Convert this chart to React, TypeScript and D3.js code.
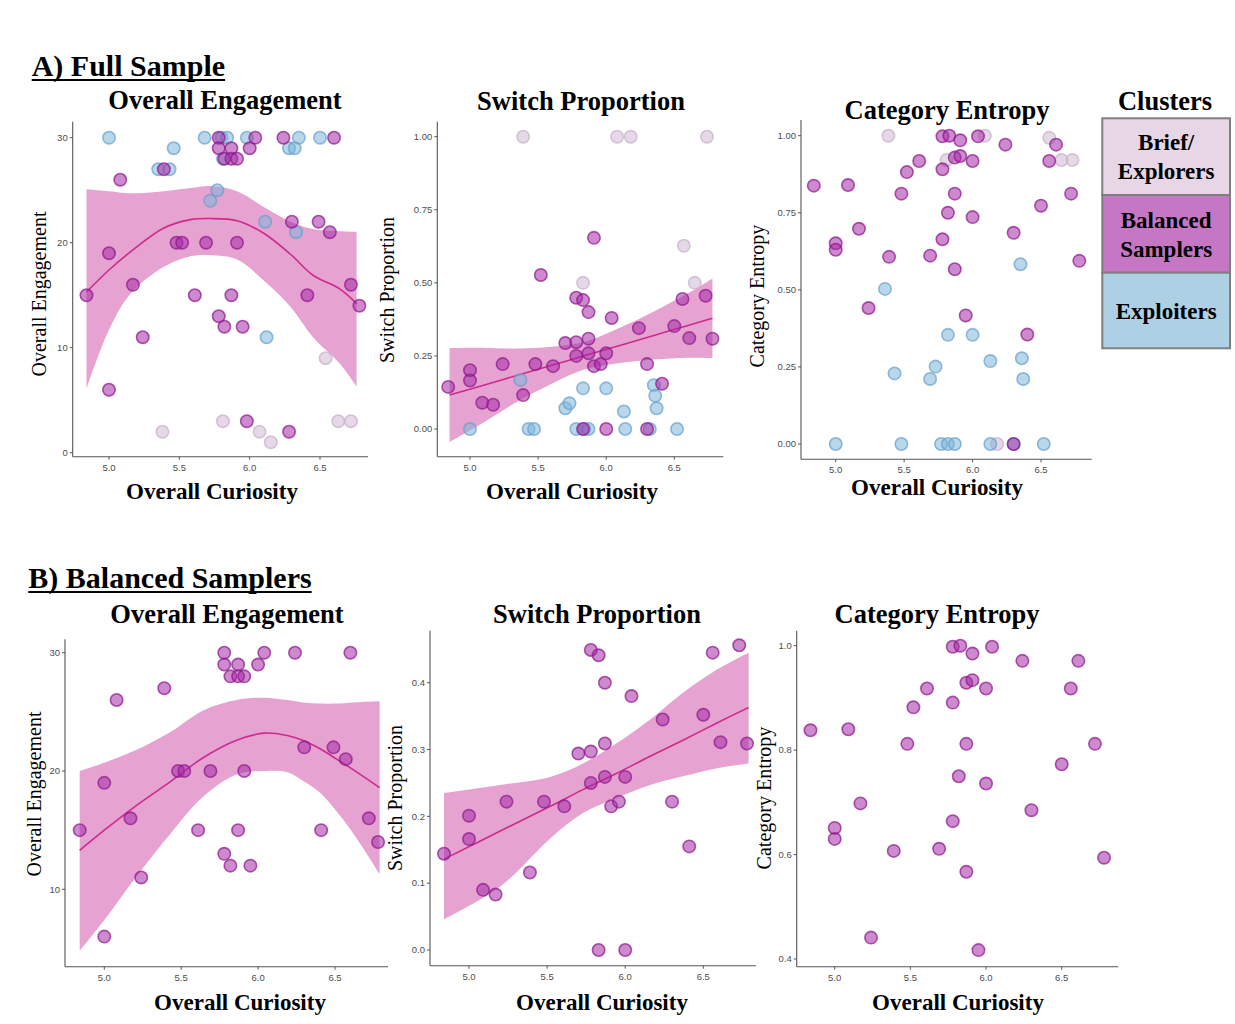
import React from 'react';
import * as d3 from 'd3';

type Pt = [number, number];
type Band = [number, number, number, number]; // curiosity, lower, fit, upper

// ---------- Balanced samplers (shown in both rows) ----------
const balancedEngagement: Pt[] = [
  [4.84, 15], [5.0, 19], [5.0, 6], [5.08, 26], [5.17, 16], [5.24, 11], [5.39, 27],
  [5.48, 20], [5.52, 20], [5.61, 15], [5.69, 20], [5.78, 30], [5.78, 29], [5.78, 13],
  [5.82, 28], [5.82, 12], [5.87, 29], [5.87, 28], [5.87, 15], [5.91, 28], [5.91, 20],
  [5.95, 12], [6.0, 29], [6.04, 30], [6.24, 30], [6.3, 22], [6.41, 15], [6.49, 22],
  [6.57, 21], [6.6, 30], [6.72, 16], [6.78, 14],
];
const balancedSwitch: Pt[] = [
  [4.84, 0.144], [5.0, 0.201], [5.0, 0.166], [5.09, 0.09], [5.17, 0.083], [5.24, 0.222],
  [5.39, 0.116], [5.48, 0.222], [5.61, 0.215], [5.7, 0.294], [5.78, 0.297], [5.78, 0.449],
  [5.83, 0.441], [5.78, 0.25], [5.83, 0.0], [5.87, 0.4], [5.87, 0.309], [5.87, 0.259],
  [5.91, 0.215], [5.96, 0.222], [6.0, 0.259], [6.0, 0.0], [6.04, 0.38], [6.24, 0.345],
  [6.3, 0.222], [6.41, 0.155], [6.5, 0.352], [6.56, 0.445], [6.61, 0.311], [6.73, 0.456],
  [6.78, 0.309],
];
const balancedEntropy: Pt[] = [
  [4.84, 0.838], [5.0, 0.651], [5.0, 0.63], [5.09, 0.84], [5.17, 0.698], [5.24, 0.441],
  [5.39, 0.607], [5.48, 0.812], [5.52, 0.882], [5.61, 0.918], [5.69, 0.611], [5.78, 0.998],
  [5.78, 0.891], [5.78, 0.664], [5.83, 1.0], [5.82, 0.75], [5.87, 0.929], [5.87, 0.812],
  [5.87, 0.567], [5.91, 0.985], [5.91, 0.934], [5.95, 0.417], [6.0, 0.918], [6.0, 0.736],
  [6.04, 0.998], [6.24, 0.971], [6.3, 0.685], [6.5, 0.773], [6.56, 0.918], [6.61, 0.971],
  [6.72, 0.812], [6.78, 0.594],
];

// Balanced samplers that appear only in the full sample
const fullOnlyBalancedEngagement: Pt[] = [[5.98, 3], [6.28, 2]];
const fullOnlyBalancedSwitch: Pt[] = [[5.52, 0.527], [5.91, 0.654], [6.3, 0.0]];
const fullOnlyBalancedEntropy: Pt[] = [[6.4, 0.355], [6.3, 0.0]];

// ---------- Exploiters ----------
const exploitersEngagement: Pt[] = [
  [5.0, 30], [5.68, 30], [5.8, 30], [5.84, 30], [5.98, 30], [6.35, 30], [6.5, 30],
  [5.46, 29], [6.28, 29], [6.32, 29], [5.81, 28], [5.35, 27], [5.43, 27], [5.72, 24],
  [5.77, 25], [6.11, 22], [6.33, 21], [6.12, 11],
];
const exploitersSwitch: Pt[] = [
  [5.0, 0], [5.43, 0], [5.47, 0], [5.78, 0], [5.84, 0], [5.87, 0], [6.14, 0], [6.32, 0],
  [6.52, 0], [5.37, 0.168], [5.83, 0.139], [6.0, 0.139], [5.7, 0.071], [5.73, 0.088],
  [6.13, 0.06], [6.35, 0.15], [6.36, 0.114], [6.37, 0.071],
];
const exploitersEntropy: Pt[] = [
  [5.0, 0], [5.48, 0], [5.77, 0], [5.82, 0], [5.87, 0], [6.13, 0], [6.3, 0], [6.52, 0],
  [5.36, 0.503], [6.35, 0.583], [5.82, 0.354], [6.0, 0.354], [6.13, 0.269], [6.36, 0.278],
  [6.37, 0.211], [5.73, 0.251], [5.69, 0.211], [5.43, 0.229],
];

// ---------- Brief / Explorers ----------
const briefEngagement: Pt[] = [
  [6.54, 9], [5.81, 3], [6.63, 3], [6.72, 3], [5.38, 2], [6.07, 2], [6.15, 1],
];
const briefSwitch: Pt[] = [
  [5.39, 1], [6.08, 1], [6.18, 1], [6.74, 1], [6.57, 0.627], [5.83, 0.5], [6.65, 0.5],
];
const briefEntropy: Pt[] = [
  [5.385, 1], [6.09, 1], [6.56, 0.993], [6.65, 0.921], [6.73, 0.921], [6.18, 0], [5.81, 0.921],
];

// ---------- Fitted curves with confidence bands ----------
const fullEngagementFit: Band[] = [
  [4.84, 6.1, 15.3, 25.1], [5.0, 11.7, 17.4, 24.9], [5.15, 15.1, 19.1, 24.7],
  [5.39, 17.7, 21.4, 24.9], [5.58, 18.7, 22.2, 25.2], [5.72, 18.8, 22.3, 25.4],
  [5.91, 18.4, 22.1, 24.9], [6.1, 16.4, 20.9, 23.4], [6.29, 13.9, 18.9, 22.0],
  [6.45, 11.0, 16.9, 21.3], [6.64, 8.5, 15.6, 21.1], [6.76, 6.3, 14.2, 21.05],
];
const fullSwitchFit: Band[] = [
  [4.85, -0.045, 0.116, 0.277], [5.1, 0.022, 0.15, 0.278], [5.35, 0.094, 0.184, 0.275],
  [5.6, 0.155, 0.218, 0.281], [5.85, 0.205, 0.252, 0.299], [6.1, 0.226, 0.286, 0.346],
  [6.35, 0.238, 0.32, 0.402], [6.6, 0.244, 0.354, 0.464], [6.78, 0.243, 0.379, 0.515],
];
const balancedEngagementFit: Band[] = [
  [4.84, 4.8, 13.3, 20.0], [5.0, 7.4, 15.0, 20.7], [5.21, 11.1, 17.1, 21.8],
  [5.43, 14.7, 19.1, 23.3], [5.64, 17.8, 21.1, 25.1], [5.86, 19.7, 22.6, 26.0],
  [6.04, 20.0, 23.2, 26.2], [6.19, 19.9, 23.0, 26.0], [6.29, 19.2, 22.6, 25.8],
  [6.4, 18.2, 21.9, 25.7], [6.51, 16.6, 21.0, 25.7], [6.62, 14.7, 20.1, 25.8],
  [6.79, 11.3, 18.6, 25.9],
];
const balancedSwitchFit: Band[] = [
  [4.84, 0.046, 0.136, 0.235], [5.2, 0.095, 0.178, 0.247], [5.52, 0.167, 0.215, 0.259],
  [5.73, 0.205, 0.24, 0.279], [5.95, 0.228, 0.265, 0.31], [6.16, 0.247, 0.29, 0.345],
  [6.37, 0.26, 0.314, 0.385], [6.59, 0.272, 0.34, 0.42], [6.79, 0.279, 0.363, 0.445],
];

const xTicks = [5.0, 5.5, 6.0, 6.5];
const engagementTicks = [0, 10, 20, 30];
const balancedEngagementTicks = [10, 20, 30];
const proportionTicks = [0, 0.25, 0.5, 0.75, 1.0];
const balancedSwitchTicks = [0, 0.1, 0.2, 0.3, 0.4];
const balancedEntropyTicks = [0.4, 0.6, 0.8, 1.0];

type Cluster = 'brief' | 'balanced' | 'exploit';

const legendLabels: { lines: string[]; key: Cluster }[] = [
  { lines: ['Brief/', 'Explorers'], key: 'brief' },
  { lines: ['Balanced', 'Samplers'], key: 'balanced' },
  { lines: ['Exploiters'], key: 'exploit' },
];

const POINT_STYLE: Record<Cluster, { fill: string; stroke: string; fo: number; so: number }> = {
  brief: { fill: '#d6bfd7', stroke: '#cbb1cc', fo: 0.6, so: 0.75 },
  balanced: { fill: '#a52aa5', stroke: '#8c168c', fo: 0.55, so: 0.7 },
  exploit: { fill: '#7db6da', stroke: '#679fcb', fo: 0.55, so: 0.7 },
};
const LEGEND_FILL: Record<Cluster, string> = {
  brief: '#e6d6e6',
  balanced: '#c577c3',
  exploit: '#aed0e4',
};

const SERIF = '"Liberation Serif", "Times New Roman", Times, serif';
const SANS = '"Liberation Sans", Arial, Helvetica, sans-serif';
const BAND_FILL = '#e6a2d0';
const FIT_LINE = '#cc2a8c';
const AXIS = '#555555';

type Layer = { data: Pt[]; cluster: Cluster };

type PanelSpec = {
  title: string;
  titlePos: [number, number];
  yTitle: string;
  yTitlePos: [number, number];
  xTitlePos: [number, number];
  frame: { l: number; r: number; t: number; b: number };
  xRange: [number, number];
  yDomain: [number, number];
  yRange: [number, number];
  yTicks: number[];
  yFmt: string;
  band?: Band[];
  layers: Layer[];
};

function Panel({ spec }: { spec: PanelSpec }) {
  const x = d3.scaleLinear().domain([5.0, 6.5]).range(spec.xRange);
  const y = d3.scaleLinear().domain(spec.yDomain).range(spec.yRange);
  const f = d3.format(spec.yFmt);
  const fx = d3.format('.1f');
  const { l, r, t, b } = spec.frame;

  let bandPath: string | null = null;
  let linePath: string | null = null;
  if (spec.band) {
    const curve = d3.curveCatmullRom.alpha(0.5);
    const area = d3
      .area<Band>()
      .x((d) => x(d[0]))
      .y0((d) => y(d[1]))
      .y1((d) => y(d[3]))
      .curve(curve);
    const line = d3
      .line<Band>()
      .x((d) => x(d[0]))
      .y((d) => y(d[2]))
      .curve(curve);
    bandPath = area(spec.band);
    linePath = line(spec.band);
  }

  return (
    <g>
      <text
        x={spec.titlePos[0]}
        y={spec.titlePos[1]}
        textAnchor="middle"
        fontFamily={SERIF}
        fontWeight="bold"
        fontSize={26.5}
      >
        {spec.title}
      </text>
      <text
        transform={`translate(${spec.yTitlePos[0]},${spec.yTitlePos[1]}) rotate(-90)`}
        textAnchor="middle"
        fontFamily={SERIF}
        fontSize={20}
      >
        {spec.yTitle}
      </text>
      <text
        x={spec.xTitlePos[0]}
        y={spec.xTitlePos[1]}
        textAnchor="middle"
        fontFamily={SERIF}
        fontWeight="bold"
        fontSize={23}
      >
        Overall Curiosity
      </text>

      {bandPath && <path d={bandPath} fill={BAND_FILL} />}
      {linePath && <path d={linePath} fill="none" stroke={FIT_LINE} strokeWidth={1.6} />}

      {spec.layers.map((layer, li) => {
        const s = POINT_STYLE[layer.cluster];
        return (
          <g key={li}>
            {layer.data.map((d, i) => (
              <circle
                key={i}
                cx={x(d[0])}
                cy={y(d[1])}
                r={6.2}
                fill={s.fill}
                fillOpacity={s.fo}
                stroke={s.stroke}
                strokeOpacity={s.so}
                strokeWidth={1.6}
              />
            ))}
          </g>
        );
      })}

      {/* axes */}
      <line x1={l} x2={l} y1={t} y2={b} stroke={AXIS} strokeWidth={1.1} />
      <line x1={l} x2={r} y1={b} y2={b} stroke={AXIS} strokeWidth={1.1} />
      {xTicks.map((v) => (
        <g key={v}>
          <line x1={x(v)} x2={x(v)} y1={b} y2={b + 3} stroke={AXIS} strokeWidth={1} />
          <text
            x={x(v)}
            y={b + 14}
            textAnchor="middle"
            fontFamily={SANS}
            fontSize={9.5}
            fill="#4d4d4d"
          >
            {fx(v)}
          </text>
        </g>
      ))}
      {spec.yTicks.map((v) => (
        <g key={v}>
          <line x1={l - 3} x2={l} y1={y(v)} y2={y(v)} stroke={AXIS} strokeWidth={1} />
          <text
            x={l - 5}
            y={y(v) + 3.3}
            textAnchor="end"
            fontFamily={SANS}
            fontSize={9.5}
            fill="#4d4d4d"
          >
            {f(v)}
          </text>
        </g>
      ))}
    </g>
  );
}

const panels: PanelSpec[] = [
  {
    title: 'Overall Engagement',
    titlePos: [225, 109],
    yTitle: 'Overall Engagement',
    yTitlePos: [46, 294],
    xTitlePos: [212, 499],
    frame: { l: 72.7, r: 368, t: 121.7, b: 456.7 },
    xRange: [109, 320],
    yDomain: [0, 30],
    yRange: [452.7, 137.7],
    yTicks: engagementTicks,
    yFmt: 'd',
    band: fullEngagementFit,
    layers: [
      { data: briefEngagement, cluster: 'brief' },
      { data: exploitersEngagement, cluster: 'exploit' },
      { data: balancedEngagement.concat(fullOnlyBalancedEngagement), cluster: 'balanced' },
    ],
  },
  {
    title: 'Switch Proportion',
    titlePos: [581, 110],
    yTitle: 'Switch Proportion',
    yTitlePos: [394, 290],
    xTitlePos: [572, 499],
    frame: { l: 437.3, r: 723.3, t: 121.7, b: 456.7 },
    xRange: [470, 674.3],
    yDomain: [0, 1],
    yRange: [429, 136.7],
    yTicks: proportionTicks,
    yFmt: '.2f',
    band: fullSwitchFit,
    layers: [
      { data: briefSwitch, cluster: 'brief' },
      { data: exploitersSwitch, cluster: 'exploit' },
      { data: balancedSwitch.concat(fullOnlyBalancedSwitch), cluster: 'balanced' },
    ],
  },
  {
    title: 'Category Entropy',
    titlePos: [947, 119],
    yTitle: 'Category Entropy',
    yTitlePos: [764, 296],
    xTitlePos: [937, 495],
    frame: { l: 801, r: 1091.7, t: 120, b: 459.3 },
    xRange: [835.7, 1041],
    yDomain: [0, 1],
    yRange: [444, 135.7],
    yTicks: proportionTicks,
    yFmt: '.2f',
    layers: [
      { data: briefEntropy, cluster: 'brief' },
      { data: exploitersEntropy, cluster: 'exploit' },
      { data: balancedEntropy.concat(fullOnlyBalancedEntropy), cluster: 'balanced' },
    ],
  },
  {
    title: 'Overall Engagement',
    titlePos: [227, 623],
    yTitle: 'Overall Engagement',
    yTitlePos: [41, 794],
    xTitlePos: [240, 1010],
    frame: { l: 65, r: 388, t: 639.3, b: 966.7 },
    xRange: [104.3, 335],
    yDomain: [10, 30],
    yRange: [889.3, 652.7],
    yTicks: balancedEngagementTicks,
    yFmt: 'd',
    band: balancedEngagementFit,
    layers: [{ data: balancedEngagement, cluster: 'balanced' }],
  },
  {
    title: 'Switch Proportion',
    titlePos: [597, 622.5],
    yTitle: 'Switch Proportion',
    yTitlePos: [401.5, 798],
    xTitlePos: [602, 1009.5],
    frame: { l: 430, r: 756, t: 630.7, b: 965.7 },
    xRange: [469, 703.3],
    yDomain: [0, 0.4],
    yRange: [950, 682.7],
    yTicks: balancedSwitchTicks,
    yFmt: '.1f',
    band: balancedSwitchFit,
    layers: [{ data: balancedSwitch, cluster: 'balanced' }],
  },
  {
    title: 'Category Entropy',
    titlePos: [937, 622.5],
    yTitle: 'Category Entropy',
    yTitlePos: [771, 798],
    xTitlePos: [958, 1010],
    frame: { l: 796.7, r: 1118.3, t: 630.7, b: 966.7 },
    xRange: [834.7, 1061.7],
    yDomain: [0.4, 1.0],
    yRange: [959, 645.7],
    yTicks: balancedEntropyTicks,
    yFmt: '.1f',
    layers: [{ data: balancedEntropy, cluster: 'balanced' }],
  },
];

function Legend() {
  const x0 = 1102.3;
  const w = 127.7;
  const rows = [
    { y0: 118.3, y1: 195, baselines: [150, 179] },
    { y0: 195, y1: 272.7, baselines: [228, 257] },
    { y0: 272.7, y1: 348.3, baselines: [319] },
  ];
  return (
    <g>
      <text x={1165} y={110} textAnchor="middle" fontFamily={SERIF} fontWeight="bold" fontSize={26.5}>
        Clusters
      </text>
      {legendLabels.map((item, i) => (
        <g key={item.key}>
          <rect
            x={x0}
            y={rows[i].y0}
            width={w}
            height={rows[i].y1 - rows[i].y0}
            fill={LEGEND_FILL[item.key]}
            stroke="#7f7f7f"
            strokeWidth={2}
          />
          {item.lines.map((ln, j) => (
            <text
              key={j}
              x={x0 + w / 2}
              y={rows[i].baselines[j]}
              textAnchor="middle"
              fontFamily={SERIF}
              fontWeight="bold"
              fontSize={23}
            >
              {ln}
            </text>
          ))}
        </g>
      ))}
    </g>
  );
}

// Section heading with a hand-drawn underline sized to the rendered text
function Heading({ x, y, size, label }: { x: number; y: number; size: number; label: string }) {
  const ref = React.useRef<SVGTextElement>(null);
  const [w, setW] = React.useState(0);
  React.useLayoutEffect(() => {
    if (ref.current) setW(ref.current.getComputedTextLength());
  }, [label, size]);
  return (
    <g>
      <text ref={ref} x={x} y={y} fontFamily={SERIF} fontWeight="bold" fontSize={size}>
        {label}
      </text>
      {w > 0 && (
        <line x1={x} x2={x + w} y1={y + 4} y2={y + 4} stroke="#000" strokeWidth={2.2} />
      )}
    </g>
  );
}

export default function App() {
  return (
    <svg
      width={1235}
      height={1024}
      viewBox="0 0 1235 1024"
      style={{ position: 'absolute', left: 0, top: 0, background: '#ffffff' }}
    >
      <rect x={0} y={0} width={1235} height={1024} fill="#ffffff" />
      <Heading x={31.7} y={76} size={30} label="A) Full Sample" />
      <Heading x={28.3} y={588} size={30} label="B) Balanced Samplers" />
      {panels.map((p, i) => (
        <Panel key={i} spec={p} />
      ))}
      <Legend />
    </svg>
  );
}
